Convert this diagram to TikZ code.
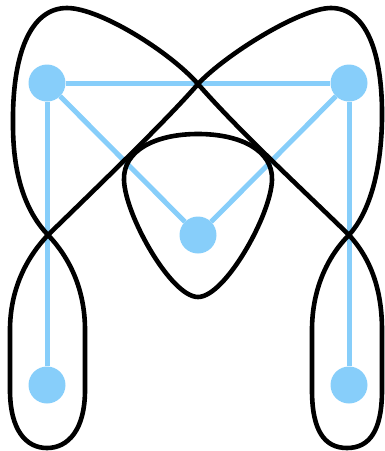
\documentclass[tikz,border=0pt]{standalone}
\usepackage{tikz}
\definecolor{skyblue}{RGB}{135,206,250}
\tikzstyle{vertex}=[circle,fill=skyblue,inner sep=0pt,minimum size=37pt]
\tikzstyle{edge}=[draw=skyblue,line width=5pt]
\tikzstyle{curve}=[draw=black,line width=4.6pt,line join=round]

\begin{document}
\begin{tikzpicture}[x=1pt,y=-1pt]
  \useasboundingbox (0,0) rectangle (384,451);
  \node[vertex] (tl) at (47,83) {};
  \node[vertex] (tr) at (349,83) {};
  \node[vertex] (mid) at (198,235) {};
  \node[vertex] (bl) at (47,385) {};
  \node[vertex] (br) at (349,385) {};
  \draw[edge] (tl) -- (tr);
  \draw[edge] (tl) -- (mid);
  \draw[edge] (tr) -- (mid);
  \draw[edge] (tl) -- (bl);
  \draw[edge] (tr) -- (br);
  % inner loop
  \draw[curve] (198,134) .. controls (240,134) and (273,150) .. (272,180)
    .. controls (271,215) and (225,297) .. (198,297)
    .. controls (171,297) and (125,215) .. (124,180)
    .. controls (123,150) and (156,134) .. cycle;
  % outer curve
  \draw[curve] (198,84) .. controls (240,132) and (303,190) .. (349,235)
    .. controls (371,259) and (382,290) .. (382,330) -- (382,390)
    .. controls (382,430) and (370,448) .. (347,448)
    .. controls (324,448) and (312,430) .. (312,390) -- (312,330)
    .. controls (312,290) and (327,257) .. (349,235)
    .. controls (368,214) and (381,175) .. (382,120)
    .. controls (383,50) and (365,8) .. (331,8)
    .. controls (300,8) and (225,55) .. (198,84)
    .. controls (166,121) and (90,194) .. (48,235)
    .. controls (26,258) and (10,290) .. (10,330) -- (10,390)
    .. controls (10,430) and (26,448) .. (47,448)
    .. controls (68,448) and (85,430) .. (85,390) -- (85,330)
    .. controls (85,290) and (70,258) .. (48,235)
    .. controls (28,214) and (13,180) .. (13,125)
    .. controls (12,55) and (30,8) .. (67,8)
    .. controls (100,8) and (170,52) .. cycle;
\end{tikzpicture}
\end{document}
